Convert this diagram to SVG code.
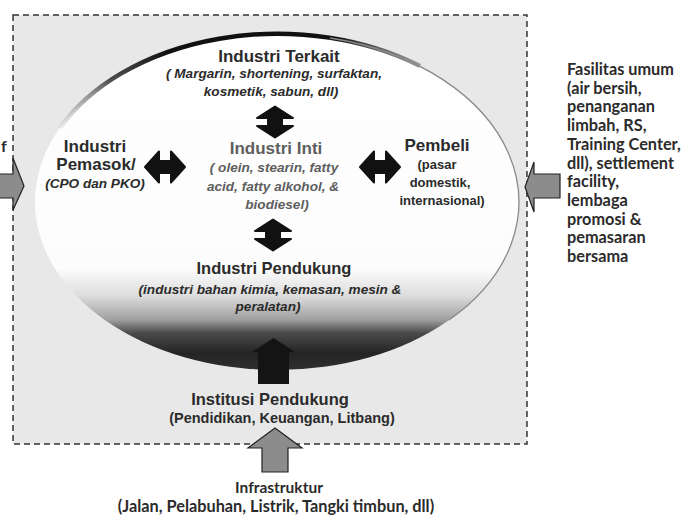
<svg xmlns="http://www.w3.org/2000/svg" width="689" height="526" viewBox="0 0 689 526">
<defs>
  <linearGradient id="ellFill" x1="0" y1="34" x2="0" y2="370" gradientUnits="userSpaceOnUse">
    <stop offset="0" stop-color="#ffffff"/>
    <stop offset="0.70" stop-color="#fcfcfc"/>
    <stop offset="0.78" stop-color="#dcdcdc"/>
    <stop offset="0.85" stop-color="#a0a0a0"/>
    <stop offset="0.89" stop-color="#4a4a4a"/>
    <stop offset="0.95" stop-color="#242424"/>
    <stop offset="1" stop-color="#303030"/>
  </linearGradient>
  <linearGradient id="arcStroke" x1="55" y1="0" x2="430" y2="0" gradientUnits="userSpaceOnUse">
    <stop offset="0" stop-color="#555" stop-opacity="0"/>
    <stop offset="0.15" stop-color="#222" stop-opacity="0.8"/>
    <stop offset="0.3" stop-color="#111"/>
    <stop offset="0.75" stop-color="#111"/>
    <stop offset="1" stop-color="#777" stop-opacity="0.6"/>
  </linearGradient>
  <path id="dblH" d="M-20,0 L-6,-15.5 L-6,-6 L6,-6 L6,-15.5 L20,0 L6,15.5 L6,6 L-6,6 L-6,15.5 Z"/>
  <path id="dblV" d="M0,-15.5 L18,-4 L7,-4 L7,4 L18,4 L0,15.5 L-18,4 L-7,4 L-7,-4 L-18,-4 Z"/>
</defs>
<style>
  .ar { font-family: "Liberation Sans", Arial, sans-serif; font-weight: bold; fill: #2b2b2b; text-anchor: middle; }
  .ttl { font-size: 17px; }
  .it { font-style: italic; font-size: 13.6px; }
  .inti { fill: #5e5e5e; }
  .cal { font-family: Lato, "Liberation Sans", sans-serif; font-weight: bold; fill: #2b2b2b; }
  .fas { font-size: 16.3px; }
  .dbl { fill: #111; stroke: #111; stroke-width: 2; stroke-linejoin: round; }
  .blk { fill: #8c8c8c; stroke: #222; stroke-width: 1.2; }
</style>

<g id="background">
  <rect x="13" y="15" width="514" height="429" fill="#e8e8e8"/>
  <ellipse cx="277" cy="202" rx="242" ry="168" fill="url(#ellFill)"/>
  <path d="M 60,128 A 242 168 0 0 1 420,66" fill="none" stroke="url(#arcStroke)" stroke-width="4.5"/>
  <path d="M 330,38 A 242 168 0 0 1 449,320" fill="none" stroke="#8a8a8a" stroke-width="1.3"/>
  <rect x="13" y="15" width="514" height="429" fill="none" stroke="#333" stroke-width="1.5" stroke-dasharray="6 4"/>
</g>

<g id="connectors">
  <use href="#dblV" class="dbl" x="275" y="122"/>
  <use href="#dblH" class="dbl" x="165" y="167"/>
  <use href="#dblH" class="dbl" x="380" y="167"/>
  <use href="#dblV" class="dbl" x="273" y="235"/>
  <path d="M258,384 L258,352 L252,352 L273.5,338 L295,352 L289,352 L289,384 Z" fill="#141414"/>
  <path class="blk" d="M262,472 L262,448 L248,448 L275,428 L302,448 L288,448 L288,472 Z"/>
  <path class="blk" d="M-2,174 L13,174 L13,158 L24,186 L13,210 L13,198 L-2,198 Z"/>
  <path class="blk" d="M560,174 L534,174 L534,162 L525,187 L534,212 L534,198 L560,198 Z"/>
</g>

<g id="n-terkait">
  <text class="ar ttl" x="279" y="62">Industri Terkait</text>
  <text class="ar it" x="274" y="78">( Margarin, shortening, surfaktan,</text>
  <text class="ar it" x="271" y="96">kosmetik, sabun, dll)</text>
</g>

<g id="n-pemasok">
  <text class="ar ttl" x="95" y="152">Industri</text>
  <text class="ar ttl" x="96" y="170">Pemasok/</text>
  <text class="ar it" x="95" y="188">(CPO dan PKO)</text>
</g>

<g id="n-inti">
  <text class="ar ttl inti" x="276" y="154">Industri Inti</text>
  <text class="ar it inti" x="274" y="172">( olein, stearin, fatty</text>
  <text class="ar it inti" x="273" y="191">acid, fatty alkohol, &amp;</text>
  <text class="ar it inti" x="277" y="209">biodiesel)</text>
</g>

<g id="n-pembeli">
  <text class="ar ttl" x="437" y="151">Pembeli</text>
  <text class="ar" font-size="13" x="437" y="169">(pasar</text>
  <text class="ar" font-size="13" x="440" y="187">domestik,</text>
  <text class="ar" font-size="13" x="442" y="205">internasional)</text>
</g>

<g id="n-pendukung">
  <text class="ar" font-size="16.5" x="274" y="274">Industri Pendukung</text>
  <text class="ar it" x="270" y="294">(industri bahan kimia, kemasan, mesin &amp;</text>
  <text class="ar it" x="268" y="311">peralatan)</text>
</g>

<g id="n-institusi">
  <text class="ar" font-size="16.5" x="270" y="405">Institusi Pendukung</text>
  <text class="ar" font-size="14.5" x="282" y="423">(Pendidikan, Keuangan, Litbang)</text>
</g>

<g id="n-infrastruktur">
  <text class="cal" font-size="15.5" text-anchor="middle" x="279" y="493">Infrastruktur</text>
  <text class="cal" font-size="16.3" text-anchor="middle" x="276" y="512">(Jalan, Pelabuhan, Listrik, Tangki timbun, dll)</text>
</g>

<g id="n-fasilitas">
  <text class="cal fas" x="567" y="75">Fasilitas umum</text>
  <text class="cal fas" x="567" y="93.7">(air bersih,</text>
  <text class="cal fas" x="567" y="112.4">penanganan</text>
  <text class="cal fas" x="567" y="131.1">limbah, RS,</text>
  <text class="cal fas" x="567" y="149.8">Training Center,</text>
  <text class="cal fas" x="567" y="168.5">dll), settlement</text>
  <text class="cal fas" x="567" y="187.2">facility,</text>
  <text class="cal fas" x="567" y="205.9">lembaga</text>
  <text class="cal fas" x="567" y="224.6">promosi &amp;</text>
  <text class="cal fas" x="567" y="243.3">pemasaran</text>
  <text class="cal fas" x="567" y="262">bersama</text>
</g>

<g id="n-left">
  <text class="cal" font-size="16" x="1" y="152">f</text>
</g>
</svg>
